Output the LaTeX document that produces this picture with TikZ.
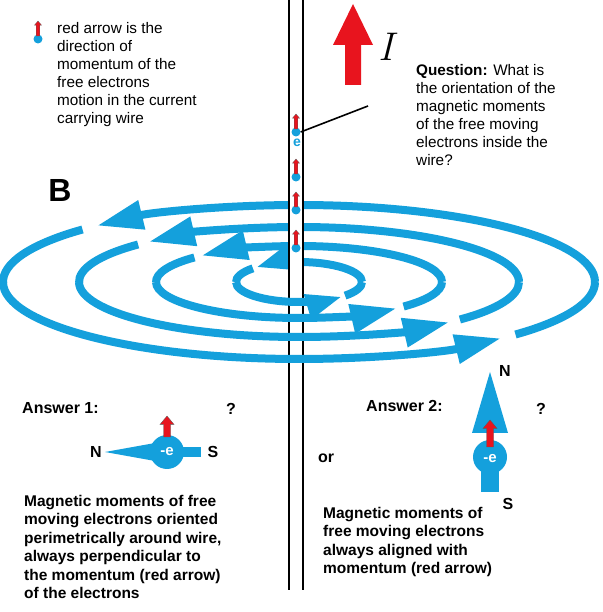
\documentclass[tikz,border=0pt]{standalone}
\usepackage{fontspec}
\setmainfont{Liberation Sans}
\usetikzlibrary{arrows.meta,calc}
\definecolor{eblue}{RGB}{20,160,220}
\definecolor{ered}{RGB}{232,20,30}
\tikzset{
  fl/.style={eblue,line width=8pt},
  bigtip/.style={-{Triangle[length=46pt,width=28pt]}},
  smalltip/.style={-{Triangle[length=36pt,width=24pt]}},
  txt/.style={anchor=north west,align=left,inner sep=0pt,font=\fontsize{15.3}{18}\selectfont},
  btxt/.style={txt,font=\fontsize{15.5}{18.5}\selectfont\bfseries},
  elec/.style={circle,fill=eblue,inner sep=0pt,minimum size=9pt},
  lbl/.style={font=\fontsize{16}{16}\selectfont\bfseries,inner sep=0pt}
}
\newcommand{\redup}[5]{% x, ybase, ytop, half shaft, half head
  \fill[ered,draw=gray!70!black,line width=0.3pt] (#1-#4,#2) -- (#1-#4,#3-#5*1.2) -- (#1-#5,#3-#5*1.2) -- (#1,#3) -- (#1+#5,#3-#5*1.2) -- (#1+#4,#3-#5*1.2) -- (#1+#4,#2) -- cycle;}
\begin{document}
\begin{tikzpicture}[x=1pt,y=1pt]
\useasboundingbox (0,0) rectangle (602,612);
\fill[white] (0,0) rectangle (602,612);
\coordinate (c) at (299,330);
% upper halves
\foreach \rx/\ry/\tp in {296/77/bigtip,220/55/bigtip,143/36/bigtip,63/20/smalltip}{
  \draw[fl,\tp] ($(c)+(\rx,0)$) arc[start angle=0,end angle=133,x radius=\rx,y radius=\ry];
  \draw[fl] ($(c)+({\rx*cos(137)},{\ry*sin(137)})$) arc[start angle=137,end angle=181,x radius=\rx,y radius=\ry];
}
% wire
\fill[white] (289,22) rectangle (303,612);
\draw[black,line width=1.6pt] (289,22) -- (289,612) (303,22) -- (303,612);
% lower halves
\foreach \rx/\ry/\tp in {296/77/bigtip,220/55/bigtip,143/36/bigtip,63/20/smalltip}{
  \draw[fl,\tp] ($(c)+(-\rx,0)$) arc[start angle=180,end angle=313,x radius=\rx,y radius=\ry];
  \draw[fl] ($(c)+({\rx*cos(317)},{\ry*sin(317)})$) arc[start angle=317,end angle=360,x radius=\rx,y radius=\ry];
}
% electrons
\foreach \y [count=\i] in {480,435,402,364}{
  \node[elec] (e\i) at (296,\y) {};
  \redup{296}{\y+3}{\y+18}{1.8}{3.5}
}
\node[text=eblue,font=\fontsize{14}{14}\selectfont\bfseries,inner sep=0pt] (elab) at (297,469) {e};
\coordinate (qend) at (368,506);
\draw[black,line width=1.6pt] (e1.east) -- (qend);
% big current arrow
\fill[ered] (345,527) -- (345,567) -- (333,567) -- (353,608) -- (373,567) -- (361,567) -- (361,527) -- cycle;
\node[font=\fontfamily{lmr}\fontsize{40}{40}\itshape,inner sep=0pt] (I) at (386,565) {I};
% legend
\node[elec] (leg) at (38,573) {};
\redup{38}{576}{591}{1.8}{3.5}
\node[txt] (legt) at (57,590) {red arrow is the\\direction of\\momentum of the\\free electrons\\motion in the current\\carrying wire};
\node[txt] (q) at (416,548) {\textbf{Question:} What is\\the orientation of the\\magnetic moments\\of the free moving\\electrons inside the\\wire?};
\node[font=\fontsize{32}{32}\selectfont\bfseries,inner sep=0pt] (B) at (60,421) {B};
% answer 1
\node[lbl,anchor=west] (a1) at (22,204) {Answer 1:};
\node[lbl] (q1) at (231,203) {?};
\fill[eblue] (105,160) -- (155,169) -- (155,151) -- cycle;
\fill[eblue] (167,155) rectangle (201,165);
\node[elec,minimum size=34pt] (m1) at (167,160) {};
\node[text=white,font=\fontsize{15}{15}\selectfont\bfseries,inner sep=0pt] at (167,160) {-e};
\redup{167}{175}{196}{3.5}{7}
\node[lbl] (n1) at (96,160) {N};
\node[lbl] (s1) at (213,160) {S};
% answer 2
\node[lbl,anchor=west] (a2) at (366,206) {Answer 2:};
\node[lbl] (q2) at (541,203) {?};
\fill[eblue] (490,240) -- (508,179) -- (472,179) -- cycle;
\fill[eblue] (481,120) rectangle (499,160);
\node[elec,minimum size=34pt] (m2) at (490,155) {};
\node[text=white,font=\fontsize{15}{15}\selectfont\bfseries,inner sep=0pt] at (490,153) {-e};
\redup{490}{165}{192}{3.5}{7}
\node[lbl] (n2) at (505,241) {N};
\node[lbl] (s2) at (508,108) {S};
\node[lbl] (or) at (326,154) {or};
% bottom texts
\node[btxt] (t1) at (24,117) {Magnetic moments of free\\moving electrons oriented\\perimetrically around wire,\\always perpendicular to\\the momentum (red arrow)\\of the electrons};
\node[btxt] (t2) at (323,105) {Magnetic moments of\\free moving electrons\\always aligned with\\momentum (red arrow)};
\end{tikzpicture}
\end{document}
